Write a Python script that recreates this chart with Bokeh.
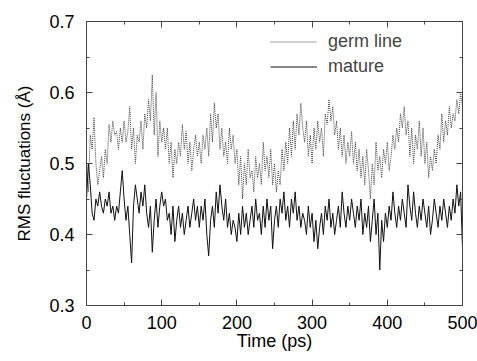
from bokeh.plotting import figure
from bokeh.models import LinearAxis, Range1d, FixedTicker, Legend, LegendItem
from bokeh.embed import file_html
from bokeh.resources import INLINE

time_step = 2.5
germ_line = [
    0.50, 0.46, 0.54, 0.52, 0.565, 0.50, 0.47, 0.49, 0.51, 0.48, 0.52, 0.50,
    0.555, 0.53, 0.56, 0.54, 0.545, 0.52, 0.55, 0.53, 0.56, 0.53, 0.545, 0.58,
    0.52, 0.55, 0.50, 0.54, 0.53, 0.56, 0.52, 0.57, 0.55, 0.59, 0.56, 0.625,
    0.54, 0.60, 0.51, 0.56, 0.53, 0.55, 0.52, 0.55, 0.50, 0.53, 0.48, 0.52,
    0.50, 0.53, 0.51, 0.555, 0.52, 0.545, 0.50, 0.53, 0.49, 0.52, 0.54, 0.51,
    0.53, 0.50, 0.54, 0.52, 0.55, 0.51, 0.57, 0.53, 0.585, 0.55, 0.57, 0.52,
    0.55, 0.51, 0.53, 0.50, 0.55, 0.52, 0.54, 0.50, 0.52, 0.47, 0.51, 0.45,
    0.50, 0.47, 0.52, 0.48, 0.49, 0.46, 0.51, 0.48, 0.50, 0.47, 0.53, 0.49,
    0.51, 0.48, 0.52, 0.47, 0.50, 0.46, 0.49, 0.47, 0.52, 0.49, 0.53, 0.50,
    0.55, 0.51, 0.56, 0.52, 0.57, 0.54, 0.585, 0.55, 0.53, 0.56, 0.51, 0.54,
    0.50, 0.55, 0.52, 0.56, 0.53, 0.55, 0.51, 0.57, 0.555, 0.59, 0.56, 0.58,
    0.54, 0.56, 0.52, 0.55, 0.51, 0.54, 0.50, 0.53, 0.51, 0.545, 0.50, 0.53,
    0.49, 0.52, 0.48, 0.51, 0.47, 0.52, 0.49, 0.45, 0.50, 0.47, 0.53, 0.49,
    0.51, 0.48, 0.52, 0.50, 0.53, 0.49, 0.51, 0.54, 0.52, 0.55, 0.53, 0.57,
    0.55, 0.58, 0.54, 0.56, 0.51, 0.55, 0.50, 0.54, 0.52, 0.56, 0.51, 0.55,
    0.50, 0.53, 0.48, 0.51, 0.49, 0.52, 0.50, 0.54, 0.52, 0.57, 0.53, 0.56,
    0.54, 0.58, 0.55, 0.57, 0.56, 0.59, 0.57, 0.60, 0.58,
]
mature = [
    0.45, 0.50, 0.47, 0.43, 0.42, 0.45, 0.44, 0.46, 0.44, 0.43, 0.45, 0.44,
    0.46, 0.43, 0.44, 0.42, 0.44, 0.43, 0.46, 0.49, 0.45, 0.42, 0.44, 0.40,
    0.36, 0.44, 0.47, 0.45, 0.43, 0.46, 0.44, 0.47, 0.43, 0.41, 0.44, 0.375,
    0.42, 0.45, 0.41, 0.44, 0.46, 0.44, 0.45, 0.42, 0.43, 0.40, 0.44, 0.39,
    0.42, 0.44, 0.41, 0.43, 0.40, 0.42, 0.44, 0.41, 0.43, 0.45, 0.42, 0.44,
    0.41, 0.44, 0.42, 0.45, 0.40, 0.37, 0.42, 0.44, 0.41, 0.46, 0.43, 0.47,
    0.44, 0.42, 0.45, 0.41, 0.43, 0.40, 0.42, 0.41, 0.39, 0.43, 0.40, 0.44,
    0.41, 0.43, 0.40, 0.42, 0.44, 0.41, 0.45, 0.42, 0.43, 0.40, 0.44, 0.41,
    0.45, 0.42, 0.44, 0.38, 0.42, 0.44, 0.41, 0.45, 0.43, 0.46, 0.42, 0.44,
    0.41, 0.45, 0.43, 0.46, 0.42, 0.44, 0.41, 0.43, 0.42, 0.40, 0.44, 0.41,
    0.43, 0.39, 0.42, 0.38, 0.41, 0.43, 0.40, 0.44, 0.42, 0.45, 0.41, 0.43,
    0.40, 0.42, 0.44, 0.41, 0.46, 0.43, 0.41, 0.44, 0.42, 0.45, 0.43, 0.41,
    0.44, 0.42, 0.45, 0.40, 0.43, 0.41, 0.44, 0.39, 0.42, 0.45, 0.40, 0.43,
    0.35, 0.42, 0.39, 0.43, 0.41, 0.44, 0.42, 0.46, 0.43, 0.41, 0.44, 0.42,
    0.45, 0.43, 0.41, 0.47, 0.44, 0.42, 0.46, 0.43, 0.41, 0.44, 0.42, 0.45,
    0.43, 0.41, 0.44, 0.40, 0.42, 0.45, 0.43, 0.41, 0.44, 0.42, 0.45, 0.43,
    0.41, 0.44, 0.42, 0.45, 0.43, 0.47, 0.44, 0.46, 0.38,
]
time_ps = [i * time_step for i in range(len(germ_line))]

x_major = [0, 100, 200, 300, 400, 500]
x_minor = [50, 150, 250, 350, 450]
y_major = [0.3, 0.4, 0.5, 0.6, 0.7]
y_minor = [0.35, 0.45, 0.55, 0.65]
y_labels = ["0.3", "0.4", "0.5", "0.6", "0.7"]

FONT = "Liberation Sans"

p = figure(
    frame_width=376, frame_height=284,
    x_range=Range1d(0, 500), y_range=Range1d(0.3, 0.7),
    output_backend="svg", toolbar_location=None,
    min_border_left=86, min_border_right=15, min_border_top=21, min_border_bottom=56,
    background_fill_color="white", border_fill_color="white",
)
p.xgrid.visible = False
p.ygrid.visible = False
p.outline_line_color = "#444444"
p.outline_line_width = 1

r_germ = p.line(time_ps, germ_line, line_color="#444444", line_width=1, line_dash="1 1")
r_mat = p.line(time_ps, mature, line_color="#111111", line_width=1)

def style_axis(ax):
    ax.axis_line_color = "#444444"
    ax.major_tick_in = 6
    ax.major_tick_out = 0
    ax.minor_tick_in = 3
    ax.minor_tick_out = 0
    ax.major_tick_line_color = "#444444"
    ax.minor_tick_line_color = "#444444"
    ax.major_label_text_font = FONT
    ax.major_label_text_font_size = "18px"
    ax.major_label_text_color = "black"
    ax.axis_label_text_font = FONT
    ax.axis_label_text_font_style = "normal"
    ax.axis_label_text_font_size = "18px"
    ax.axis_label_text_color = "black"

p.xaxis.ticker = FixedTicker(ticks=x_major, minor_ticks=x_minor)
p.yaxis.ticker = FixedTicker(ticks=y_major, minor_ticks=y_minor)
style_axis(p.xaxis[0])
style_axis(p.yaxis[0])
p.yaxis.major_label_overrides = {v: s for v, s in zip(y_major, y_labels)}
p.xaxis.axis_label = "Time (ps)"
p.yaxis.axis_label = "RMS fluctuations (Å)"
p.yaxis.axis_label_text_font_size = "17px"
p.xaxis.major_label_standoff = 10
p.yaxis.major_label_standoff = 12
p.xaxis.axis_label_standoff = -1
p.yaxis.axis_label_standoff = 12

top = LinearAxis(ticker=FixedTicker(ticks=x_major, minor_ticks=x_minor))
right = LinearAxis(ticker=FixedTicker(ticks=y_major, minor_ticks=y_minor))
style_axis(top)
style_axis(right)
top.major_label_overrides = {v: "" for v in x_major}
right.major_label_overrides = {v: "" for v in y_major}
top.major_label_standoff = 0
right.major_label_standoff = 0
p.add_layout(top, "above")
p.add_layout(right, "right")

legend = Legend(
    items=[LegendItem(label="germ line", renderers=[r_germ]),
           LegendItem(label="mature", renderers=[r_mat])],
    location=(184, 226),
    border_line_color=None, background_fill_alpha=0,
    padding=0, margin=0, spacing=0,
    glyph_width=47, glyph_height=25, label_height=25,
    label_standoff=11,
    label_text_font=FONT, label_text_font_size="18px",
)
p.add_layout(legend, "center")

open("out.html", "w").write(file_html(p, INLINE))
